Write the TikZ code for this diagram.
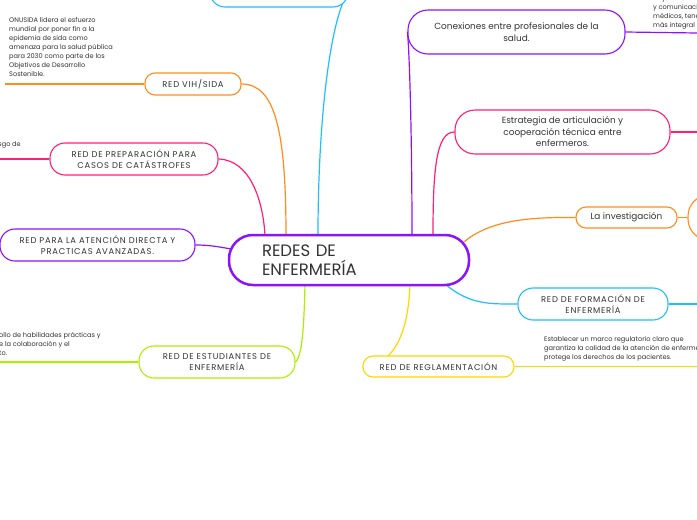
\documentclass[tikz,border=0pt]{standalone}
\usepackage{fontspec}
\setmainfont{Poppins}
\newfontfamily\capfont[LetterSpace=9]{Poppins}
\usetikzlibrary{backgrounds}
\definecolor{ink}{RGB}{51,51,51}
\definecolor{cpurple}{RGB}{140,20,250}
\definecolor{corange}{RGB}{255,140,30}
\definecolor{cpink}{RGB}{255,30,120}
\definecolor{cblue}{RGB}{30,190,255}
\definecolor{clime}{RGB}{170,240,0}
\definecolor{cyellow}{RGB}{255,215,0}
\tikzset{
  caps/.style={font=\capfont\fontsize{8.4}{11}\selectfont},
  lower/.style={font=\fontsize{8.9}{11.5}\selectfont},
  pill/.style={draw=#1, line width=1.1pt, fill=white, inner sep=0pt, text=ink, align=center, rectangle},
  link/.style={draw=#1, line width=1.2pt},
  desc/.style={font=\fontsize{6.6}{9}\selectfont, text=ink, align=left, inner sep=0pt},
}
\begin{document}
\begin{tikzpicture}[x=1pt,y=-1pt]
\useasboundingbox (0,0) rectangle (697,520);
\clip (0,0) rectangle (697,520);

% central node
\node[pill=cpurple, line width=2.5pt, rounded corners=24, minimum width=240, minimum height=50,
      text width=174, align=left, font=\fontsize{16.5}{19}\selectfont] (center) at (349,260) {REDES DE\\ENFERMERÍA};

% left / top branches
\node[pill=cblue, caps, rounded corners=15, minimum width=138, minimum height=32] (top) at (279,-9) {RED DE ENFERMERAS};
\node[pill=corange, caps, rounded corners=10, minimum width=96, minimum height=22] (vih) at (193,84) {RED VIH/SIDA};
\node[pill=cpink, caps, rounded corners=15, minimum width=168, minimum height=32] (prep) at (134,159) {RED DE PREPARACIÓN PARA\\CASOS DE CATÁSTROFES};
\node[pill=cpurple, caps, rounded corners=15, minimum width=195, minimum height=32] (aten) at (97.5,245) {RED PARA LA ATENCIÓN DIRECTA Y\\PRACTICAS AVANZADAS.};
\node[pill=clime, caps, rounded corners=15, minimum width=156, minimum height=32] (estud) at (217,362) {RED DE ESTUDIANTES DE\\ENFERMERÍA};

% right branches
\node[pill=cpurple, lower, rounded corners=20, minimum width=217, minimum height=44] (conex) at (516.5,32) {Conexiones entre profesionales de la\\salud.};
\node[pill=cpink, lower, rounded corners=20, minimum width=215, minimum height=44] (estrat) at (562.5,132) {Estrategia de articulación y\\cooperación técnica entre\\enfermeros.};
\node[pill=corange, lower, rounded corners=10, minimum width=101, minimum height=21] (invest) at (626.5,217.5) {La investigación};
\node[pill=corange, rounded corners=21, minimum width=104, minimum height=45] (investr) at (740,217.5) {};
\node[pill=cblue, caps, rounded corners=15, minimum width=150, minimum height=32] (form) at (593,304) {RED DE FORMACIÓN DE\\ENFERMERÍA};
\node[pill=cyellow, caps, rounded corners=10, minimum width=151, minimum height=21] (regla) at (438.5,366.5) {RED DE REGLAMENTACIÓN};

% descriptive texts
\node[desc, anchor=north west] (onu) at (9,17) {ONUSIDA lidera el esfuerzo\\mundial por poner fin a la\\epidemia de sida como\\amenaza para la salud pública\\para 2030 como parte de los\\Objetivos de Desarrollo\\Sostenible.};
\node[desc, anchor=base east] (riesgo) at (21,146) {riesgo de};
\node[desc, anchor=north west] (estudtxt) at (-1,332) {ollo de habilidades prácticas y\\e la colaboración y el\\to.};
\node[desc, anchor=north west] (conextxt) at (653,-5) {Mejora de la\\y comunicación\\médicos, tenemos\\más integral};
\node[desc, anchor=north west] (reglatxt) at (544,336) {Establecer un marco regulatorio claro que\\garantiza la calidad de la atención de enfermería y\\protege los derechos de los pacientes.};

% anchor points
\coordinate (cblueT) at (318,235.5);
\coordinate (corangeT) at (286,235.5);
\coordinate (cpinkT) at (265,235.5);
\coordinate (cpurpleL) at (231,249);
\coordinate (climeB) at (305,284.5);
\coordinate (cconexT) at (412,235.5);
\coordinate (cestratT) at (433,235.5);
\coordinate (cinvestR) at (464,242);
\coordinate (cformB) at (445,284);
\coordinate (creglaB) at (410,284.5);
\coordinate (vihend) at (5,84);
\coordinate (prepend) at (0,159);
\coordinate (estudend) at (0,362);
\coordinate (conexend) at (697,33);
\coordinate (estratend) at (697,132);
\coordinate (formend) at (697,304);
\coordinate (reglaend) at (697,366.5);

\begin{scope}[on background layer]
\fill[white] (0,0) rectangle (697,520);
\draw[link=cblue] (cblueT) .. controls (318,120) and (330,20) .. (top.east);
\draw[link=corange] (vih.east) .. controls (275,84) and (286,130) .. (corangeT);
\draw[link=cpink] (prep.east) .. controls (250,160) and (263,200) .. (cpinkT);
\draw[link=cpurple] (aten.east) .. controls (210,245) and (220,247) .. (cpurpleL);
\draw[link=clime] (estud.east) .. controls (303,355) and (304,320) .. (climeB);
\draw[link=cpurple] (cconexT) .. controls (412,150) and (410,60) .. (conex.west);
\draw[link=cpink] (cestratT) .. controls (433,170) and (436,132) .. (estrat.west);
\draw[link=corange] (cinvestR) .. controls (490,220) and (530,217) .. (invest.west);
\draw[link=cblue] (cformB) .. controls (470,305) and (490,304) .. (form.west);
\draw[link=cyellow] (creglaB) .. controls (408,340) and (390,366) .. (regla.west);
\draw[link=corange] (vih.west) -- (vihend);
\draw[link=cpink] (prep.west) -- (prepend);
\draw[link=clime] (estud.west) -- (estudend);
\draw[link=cpurple] (conex.east) -- (conexend);
\draw[link=cpink] (estrat.east) -- (estratend);
\draw[link=corange] (invest.east) -- (investr.west);
\draw[link=cblue] (form.east) -- (formend);
\draw[link=cyellow] (regla.east) -- (reglaend);
\end{scope}
\end{tikzpicture}
\end{document}
